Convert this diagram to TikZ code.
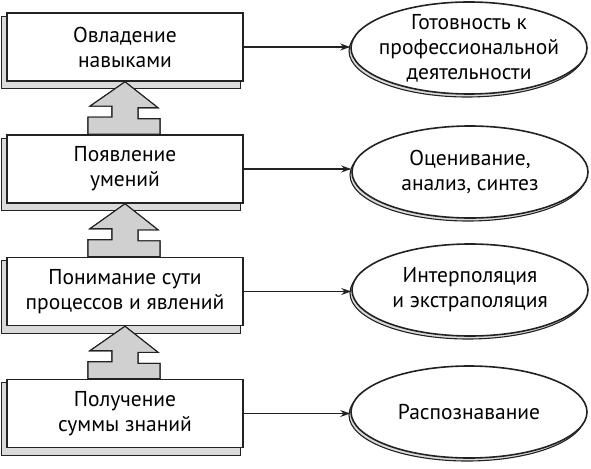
\documentclass[tikz,border=0pt]{standalone}
\usepackage{fontspec}
\setmainfont{PT Sans}
\usetikzlibrary{shapes.geometric,arrows.meta,backgrounds,calc}
\definecolor{ink}{HTML}{222222}
\definecolor{arrgray}{HTML}{D0D0D0}
\definecolor{shgray}{HTML}{DADADA}
\tikzset{
  stepbox/.style={draw=ink, line width=1.6pt, fill=white, minimum width=236pt, minimum height=68pt, inner sep=0pt, align=center, font=\fontsize{21.5}{25}\selectfont},
  goal/.style={draw=ink, line width=1.6pt, fill=white, ellipse, minimum width=236pt, minimum height=92pt, inner xsep=-30pt, inner ysep=-14pt, align=center, font=\fontsize{21.5}{25}\selectfont},
  boxshadow/.style={draw=ink, line width=1.1pt, fill=shgray},
  blockarr/.style={draw=ink, line width=1.1pt, fill=arrgray},
  link/.style={draw=ink, line width=1.4pt, -{Stealth[length=10pt,width=7pt]}}
}
\begin{document}
\begin{tikzpicture}[x=1pt,y=-1pt]
\useasboundingbox (0,0) rectangle (591,468);
% boxes
\node[stepbox] (b1) at (125,47) {Овладение\\навыками};
\node[stepbox] (b2) at (125,169) {Появление\\умений};
\node[stepbox] (b3) at (125,291.5) {Понимание сути\\процессов и явлений};
\node[stepbox] (b4) at (125,413.5) {Получение\\суммы знаний};
% goals
\node[goal] (e1) at (469,48) {Готовность к\\профессиональной\\деятельности};
\node[goal] (e2) at (470,172) {Оценивание,\\анализ, синтез};
\node[goal] (e3) at (470,290) {Интерполяция\\и экстраполяция};
\node[goal] (e4) at (469,412) {Распознавание};
\begin{scope}[on background layer]
  \foreach \b in {b1,b2,b3,b4}{
    \draw[boxshadow] ([shift={(-5,4)}]\b.north west) rectangle ([shift={(-3,7)}]\b.south east);
  }
  \foreach \e in {e1,e2,e3,e4}{
    \draw[boxshadow] ([shift={(-2,3)}]\e.center) ellipse [x radius=118, y radius=46];
  }
  \foreach \u/\l in {b1/b2,b2/b3,b3/b4}{
    \foreach \s in {-2,0}{
      \draw[blockarr, shift={(\s,1)}] (\u.south) -- ++(33,26) -- ++(-20,0) -- ++(0,11) -- ++(22,0)
        -- ([shift={(35,0)}]\l.north) -- ([shift={(-37,0)}]\l.north) -- ++(0,-17) -- ++(24,0) -- ++(0,-11) -- ++(-22,0) -- cycle;
    }
  }
\end{scope}
% connectors
\draw[link] (b1.east) -- (b1.east -| e1.west);
\draw[link] (b2.east) -- (b2.east -| e2.west);
\draw[link] (b3.east) -- (b3.east -| e3.west);
\draw[link] (b4.east) -- (b4.east -| e4.west);
\end{tikzpicture}
\end{document}
